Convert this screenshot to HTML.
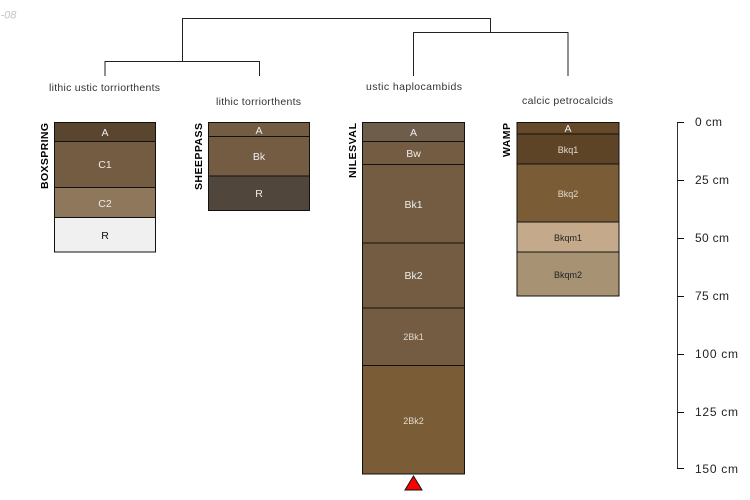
<!DOCTYPE html>
<html><head><meta charset="utf-8"><style>
html,body{margin:0;padding:0;background:#fff;width:750px;height:500px;overflow:hidden}
svg{display:block}
text{font-family:"Liberation Sans",sans-serif}
.h{stroke:#111;stroke-width:1;shape-rendering:crispEdges}
.n{font-size:10.5px;fill:#333}
.l{font-size:10.5px;fill:#eee;text-anchor:middle}
.s{font-size:9px;fill:#e0d9cd;text-anchor:middle}
.d{font-size:9px;fill:#222;text-anchor:middle}
.id{font-size:10.5px;font-weight:bold;fill:#000}
.a{font-size:12px;fill:#222}
</style></head><body>
<svg width="750" height="500" viewBox="0 0 750 500" xmlns="http://www.w3.org/2000/svg">
<text x="0.5" y="18.5" font-size="11" font-style="italic" fill="#c4c4c4">-08</text>

<g fill="none" stroke="#222" stroke-width="1">
<path d="M182.5 61V18.5H490.5V32"/>
<path d="M105 76V61.5H259.5V76"/>
<path d="M413.5 76V32.5H568V76"/>
</g>
<text class="n" x="49" y="91" textLength="111">lithic ustic torriorthents</text>
<text class="n" x="216" y="105" textLength="85">lithic torriorthents</text>
<text class="n" x="366" y="90" textLength="96">ustic haplocambids</text>
<text class="n" x="522" y="104" textLength="91">calcic petrocalcids</text>

<g class="h">
<rect x="54.5" y="122.5" width="101" height="19" fill="#5a452e"/>
<rect x="54.5" y="141.5" width="101" height="46" fill="#735c42"/>
<rect x="54.5" y="187.5" width="101" height="30" fill="#8e775a"/>
<rect x="54.5" y="217.5" width="101" height="34.5" fill="#f0f0f0"/>

<rect x="208.5" y="122.5" width="101" height="14" fill="#735c42"/>
<rect x="208.5" y="136.5" width="101" height="39.5" fill="#735c42"/>
<rect x="208.5" y="176" width="101" height="34.5" fill="#50463c"/>

<rect x="362.5" y="122.5" width="102" height="19" fill="#6e5d4b"/>
<rect x="362.5" y="141.5" width="102" height="23" fill="#735c42"/>
<rect x="362.5" y="164.5" width="102" height="78.5" fill="#735c42"/>
<rect x="362.5" y="243" width="102" height="65" fill="#735c42"/>
<rect x="362.5" y="308" width="102" height="57.5" fill="#735c42"/>
<rect x="362.5" y="365.5" width="102" height="108.5" fill="#7a5c36"/>

<rect x="517" y="122.5" width="102" height="11.5" fill="#654928"/>
<rect x="517" y="134" width="102" height="30" fill="#5e4426"/>
<rect x="517" y="164" width="102" height="58" fill="#7a5c36"/>
<rect x="517" y="222" width="102" height="30" fill="#c4aa8a"/>
<rect x="517" y="252" width="102" height="44" fill="#a89274"/>
</g>

<text class="l" x="105" y="136">A</text>
<text class="l" x="105" y="168">C1</text>
<text class="l" x="105" y="207">C2</text>
<text class="l" x="105" y="239" style="fill:#111">R</text>

<text class="l" x="259" y="134">A</text>
<text class="l" x="259" y="160">Bk</text>
<text class="l" x="259" y="197">R</text>

<text class="l" x="413.5" y="136">A</text>
<text class="l" x="413.5" y="157">Bw</text>
<text class="l" x="413.5" y="208">Bk1</text>
<text class="l" x="413.5" y="279">Bk2</text>
<text class="s" x="413.5" y="340">2Bk1</text>
<text class="s" x="413.5" y="424">2Bk2</text>

<text class="l" x="568" y="132">A</text>
<text class="s" x="568" y="153">Bkq1</text>
<text class="s" x="568" y="197">Bkq2</text>
<text class="d" x="568" y="241">Bkqm1</text>
<text class="d" x="568" y="278">Bkqm2</text>

<text class="id" transform="translate(48,189) rotate(-90)" textLength="66">BOXSPRING</text>
<text class="id" transform="translate(202,190) rotate(-90)" textLength="67">SHEEPPASS</text>
<text class="id" transform="translate(356,178) rotate(-90)" textLength="55">NILESVAL</text>
<text class="id" transform="translate(510,157) rotate(-90)" textLength="34">WAMP</text>

<polygon points="413.5,476 422,490 405,490" fill="#f00" stroke="#111" stroke-width="1"/>

<g fill="none" stroke="#333" stroke-width="1">
<path d="M677.5 122.5V469"/>
<path d="M677 122.5H684M677 180.5H684M677 238.5H684M677 296.5H684M677 354.5H684M677 412.5H684M677 468.5H684" stroke="#111"/>
</g>
<text class="a" x="695" y="126" textLength="27">0 cm</text>
<text class="a" x="695" y="184" textLength="34">25 cm</text>
<text class="a" x="695" y="242" textLength="34">50 cm</text>
<text class="a" x="695" y="300" textLength="34">75 cm</text>
<text class="a" x="695" y="358" textLength="43">100 cm</text>
<text class="a" x="695" y="416" textLength="43">125 cm</text>
<text class="a" x="695" y="473" textLength="43">150 cm</text>
</svg>
</body></html>
